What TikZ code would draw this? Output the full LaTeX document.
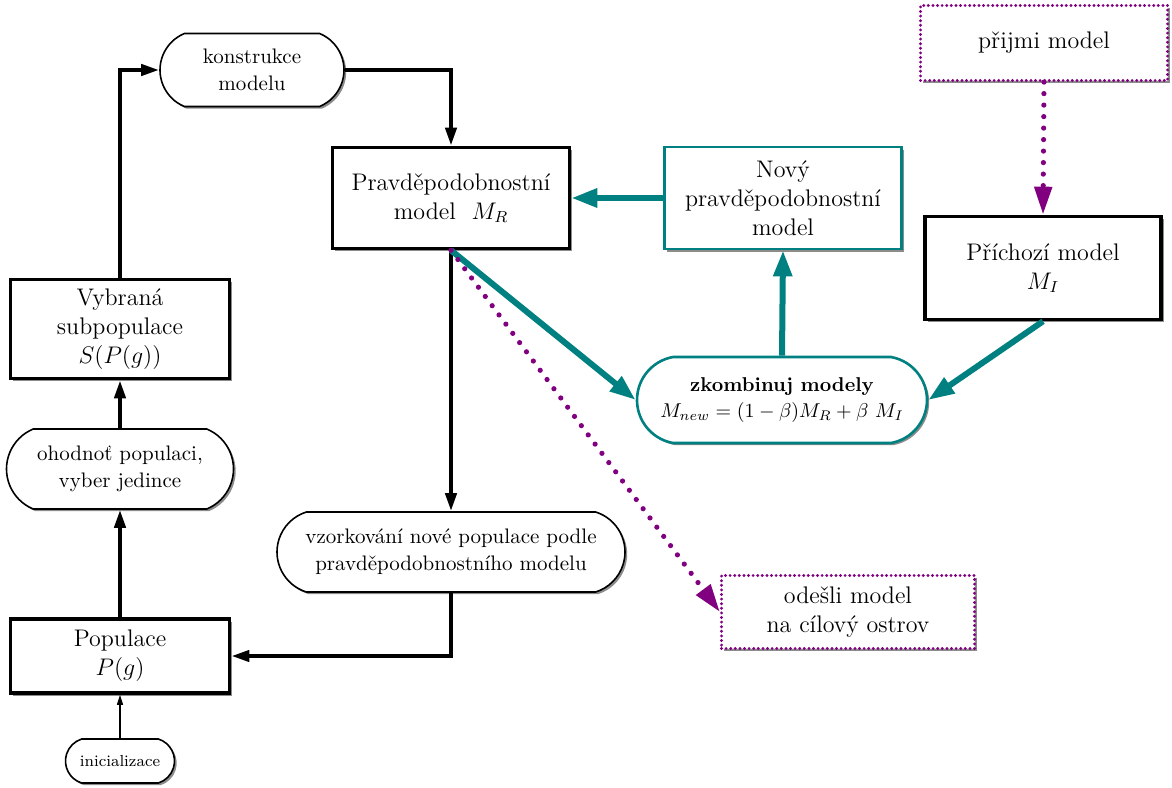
\documentclass[tikz,border=0pt]{standalone}
\usepackage{amsmath}
\usepackage{amssymb}
\usetikzlibrary{arrows.meta,shadows,shapes.misc}
\definecolor{tealline}{RGB}{0,128,128}
\definecolor{purpleline}{RGB}{128,0,128}

\begin{document}
\begin{tikzpicture}[x=0.5pt,y=0.5pt]
\tikzstyle{every node}+=[inner sep=0pt, align=center]
\tikzstyle{modelbox}=[draw=black, line width=1.8pt, fill=white, font=\fontsize{12}{14.5}\selectfont, drop shadow={shadow xshift=1.3pt, shadow yshift=-1.3pt, fill=black!45, opacity=1}]
\tikzstyle{novybox}=[modelbox, draw=tealline, line width=1.4pt]
\tikzstyle{islandbox}=[modelbox, draw=purpleline, line width=1.6pt, dash pattern=on 0pt off 2.3pt, line cap=round]
\tikzstyle{stepround}=[rounded rectangle, rounded rectangle arc length=135, draw=black, line width=0.8pt, fill=white, font=\fontsize{10.5}{13.5}\selectfont, drop shadow={shadow xshift=1.1pt, shadow yshift=-1.1pt, fill=black!45, opacity=1}]
\tikzstyle{combround}=[stepround, rounded rectangle arc length=160, draw=tealline, line width=1.3pt, font=\fontsize{10}{13}\selectfont]
\tikzstyle{blackarrow}=[draw=black, line width=2pt, -{Triangle[length=9pt,width=5.5pt]}]
\tikzstyle{thinarrow}=[draw=black, line width=0.6pt, -{Triangle[length=5pt,width=3pt]}]
\tikzstyle{tealarrow}=[draw=tealline, line width=3pt, -{Triangle[length=13pt,width=9pt]}]
\tikzstyle{purplearrow}=[draw=purpleline, line width=2.6pt, dash pattern=on 0pt off 5.75pt, line cap=round, -{Triangle[length=14pt,width=8.5pt]}]
\useasboundingbox (0,0) rectangle (1172,-787);
\node [stepround, minimum width=92pt, minimum height=36.5pt] (konstrukce) at (252,-70) {konstrukce\\modelu};
\node [modelbox, minimum width=118.5pt, minimum height=50.5pt] (pravd) at (451,-198) {Pravděpodobnostní\\model\ \ $M_R$};
\node [novybox, minimum width=118.5pt, minimum height=51pt] (novy) at (783,-198) {Nový\\pravděpodobnostní\\model};
\node [islandbox, minimum width=123.5pt, minimum height=37.5pt] (prijmi) at (1044,-43) {přijmi model};
\node [modelbox, minimum width=118pt, minimum height=51.5pt] (prichozi) at (1043,-268) {Příchozí model\\$M_I$};
\node [combround, minimum width=145pt, minimum height=43pt] (zkombinuj) at (782,-400) {\textbf{zkombinuj modely}\\$M_{new}=(1-\beta)M_R+\beta\ M_I$};
\node [modelbox, minimum width=109.5pt, minimum height=49.5pt] (vybrana) at (120,-329) {Vybraná\\subpopulace\\$S(P(g))$};
\node [stepround, minimum width=113.5pt, minimum height=40pt] (ohodnot) at (120,-469) {ohodnoť populaci,\\vyber jedince};
\node [stepround, rounded rectangle arc length=145, minimum width=174pt, minimum height=40pt] (vzorkovani) at (451,-552) {vzorkování nové populace podle\\pravděpodobnostního modelu};
\node [islandbox, minimum width=126.5pt, minimum height=36.5pt] (odesli) at (848,-612) {odešli model\\na cílový ostrov};
\node [modelbox, minimum width=109.5pt, minimum height=37pt] (populace) at (120,-656) {Populace\\$P(g)$};
\node [stepround, rounded rectangle arc length=145, minimum width=54.5pt, minimum height=22pt, font=\footnotesize] (inicializace) at (120,-761) {inicializace};
\draw [blackarrow] (vybrana.north) |- (konstrukce.west);
\draw [blackarrow] (konstrukce.east) -| (pravd.north);
\draw [blackarrow] (pravd.south) -- (vzorkovani.north);
\draw [blackarrow] (vzorkovani.south) |- (populace.east);
\draw [blackarrow] (populace.north) -- (ohodnot.south);
\draw [blackarrow] (ohodnot.north) -- (vybrana.south);
\draw [thinarrow] (inicializace.north) -- (populace.south);
\draw [tealarrow] (novy.west) -- (pravd.east);
\draw [tealarrow] (zkombinuj.north) -- (novy.south);
\draw [tealarrow] (pravd.south) -- (zkombinuj.west);
\draw [tealarrow] (prichozi.south) -- (zkombinuj.east);
\draw [purplearrow] (prijmi.south) -- (prichozi.north);
\draw [purplearrow] (pravd.south) -- (odesli.west);
\end{tikzpicture}
\end{document}
